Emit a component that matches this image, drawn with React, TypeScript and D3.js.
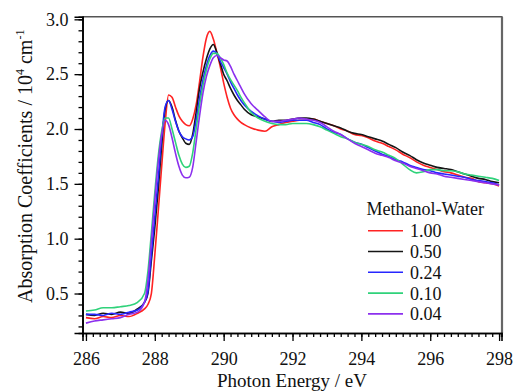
import React, { useRef, useEffect } from 'react';
import * as d3 from 'd3';

// photon energy grid (eV), shared by all five traces
const energy = [
  286.0, 286.25, 286.5, 286.75, 287.0, 287.25, 287.5,
  287.7, 287.8, 287.9, 288.0, 288.1, 288.2, 288.3, 288.4, 288.5, 288.6, 288.7, 288.8, 288.9,
  289.0, 289.1, 289.2, 289.3, 289.4, 289.5, 289.6, 289.7, 289.8, 289.9,
  290.0, 290.1, 290.2, 290.3, 290.4, 290.5, 290.6,
  290.8, 291.0, 291.2, 291.4, 291.6, 291.8, 292.0, 292.2, 292.4, 292.6, 292.8,
  293.0, 293.2, 293.4, 293.6, 293.8, 294.0, 294.2, 294.4, 294.6, 294.8,
  295.0, 295.2, 295.4, 295.6, 295.8, 296.0, 296.2, 296.4, 296.6, 296.8,
  297.0, 297.2, 297.4, 297.6, 297.8, 298.0,
];

// absorption coefficients / 10^4 cm^-1
const mw100 = [
  0.28, 0.27, 0.29, 0.28, 0.30, 0.29, 0.32,
  0.36, 0.40, 0.50, 0.85, 1.25, 1.66, 2.05, 2.31, 2.29, 2.20, 2.12, 2.07, 2.04,
  2.03, 2.09, 2.22, 2.43, 2.66, 2.83, 2.89, 2.82, 2.70, 2.57,
  2.42, 2.29, 2.19, 2.13, 2.09, 2.06, 2.04,
  2.01, 1.99, 1.98, 2.02, 2.04, 2.06, 2.07, 2.08, 2.08, 2.09, 2.07,
  2.05, 2.03, 2.00, 1.98, 1.95, 1.94, 1.92, 1.89, 1.87, 1.84,
  1.81, 1.77, 1.74, 1.70, 1.67, 1.65, 1.63, 1.61, 1.60, 1.58,
  1.56, 1.55, 1.52, 1.51, 1.50, 1.48,
];
const mw050 = [
  0.31, 0.30, 0.32, 0.31, 0.33, 0.32, 0.36,
  0.42, 0.50, 0.80, 1.10, 1.45, 1.85, 2.18, 2.26, 2.20, 2.08, 1.98, 1.92, 1.87,
  1.86, 1.95, 2.15, 2.37, 2.52, 2.64, 2.73, 2.77, 2.70, 2.60,
  2.50, 2.44, 2.37, 2.31, 2.26, 2.22, 2.18,
  2.13, 2.11, 2.09, 2.07, 2.08, 2.08, 2.09, 2.10, 2.10, 2.09, 2.07,
  2.05, 2.03, 2.01, 1.98, 1.96, 1.95, 1.93, 1.91, 1.89, 1.86,
  1.83, 1.79, 1.76, 1.72, 1.69, 1.67, 1.65, 1.64, 1.63, 1.61,
  1.59, 1.57, 1.55, 1.54, 1.52, 1.51,
];
const mw024 = [
  0.31, 0.31, 0.30, 0.32, 0.31, 0.33, 0.35,
  0.42, 0.52, 0.85, 1.20, 1.55, 1.92, 2.20, 2.26, 2.18, 2.07, 1.98, 1.93, 1.91,
  1.90, 1.93, 2.08, 2.28, 2.45, 2.58, 2.67, 2.71, 2.69, 2.62,
  2.56, 2.50, 2.43, 2.37, 2.31, 2.26, 2.22,
  2.16, 2.12, 2.09, 2.07, 2.06, 2.07, 2.08, 2.08, 2.08, 2.06, 2.04,
  2.00, 1.97, 1.95, 1.91, 1.88, 1.86, 1.83, 1.80, 1.77, 1.75,
  1.72, 1.70, 1.67, 1.65, 1.63, 1.62, 1.60, 1.59, 1.58, 1.57,
  1.56, 1.54, 1.53, 1.52, 1.51, 1.49,
];
const mw010 = [
  0.34, 0.35, 0.37, 0.37, 0.38, 0.39, 0.42,
  0.50, 0.70, 1.05, 1.42, 1.75, 1.98, 2.10, 2.10, 2.00, 1.88, 1.76, 1.68, 1.65,
  1.66, 1.78, 2.00, 2.22, 2.40, 2.54, 2.64, 2.69, 2.69, 2.65,
  2.59, 2.51, 2.45, 2.40, 2.35, 2.29, 2.24,
  2.15, 2.10, 2.07, 2.05, 2.04, 2.04, 2.05, 2.05, 2.05, 2.04, 2.02,
  1.99, 1.96, 1.93, 1.91, 1.88, 1.86, 1.84, 1.81, 1.79, 1.76,
  1.73, 1.68, 1.63, 1.60, 1.61, 1.63, 1.63, 1.62, 1.62, 1.61,
  1.59, 1.58, 1.57, 1.56, 1.55, 1.53,
];
const mw004 = [
  0.23, 0.25, 0.26, 0.27, 0.28, 0.31, 0.33,
  0.42, 0.62, 0.98, 1.35, 1.70, 1.95, 2.08, 2.04, 1.92, 1.78, 1.66, 1.58, 1.555,
  1.56, 1.65, 1.88, 2.12, 2.33, 2.48, 2.58, 2.65, 2.67, 2.65,
  2.63, 2.62, 2.57, 2.50, 2.44, 2.38, 2.32,
  2.23, 2.17, 2.11, 2.07, 2.07, 2.08, 2.09, 2.10, 2.09, 2.08, 2.06,
  2.02, 1.98, 1.95, 1.91, 1.87, 1.84, 1.81, 1.78, 1.76, 1.74,
  1.71, 1.69, 1.66, 1.64, 1.62, 1.60, 1.59, 1.57, 1.56, 1.55,
  1.54, 1.53, 1.52, 1.51, 1.50, 1.49,
];

const labels = ['1.00', '0.50', '0.24', '0.10', '0.04'];
const colors = ['#ff2323', '#151515', '#2626ff', '#2fd27a', '#8c30ee'];
const seriesValues = [mw100, mw050, mw024, mw010, mw004];

const xTicks = [286, 288, 290, 292, 294, 296, 298];
const yTicks = [0.5, 1.0, 1.5, 2.0, 2.5, 3.0];

function App() {
  const svgRef = useRef<SVGSVGElement>(null);
  const width = 514;
  const height = 391;

  useEffect(() => {
    const svg = d3.select(svgRef.current);
    svg.selectAll('*').remove();

    const left = 82.5, right = 501.5, top = 16.7, bottom = 333;
    const font = "'Liberation Serif', 'Times New Roman', Times, 'DejaVu Serif', serif";

    const x = d3.scaleLinear().domain([285.9, 298.07]).range([left, right]);
    const y = d3.scaleLinear().domain([0.14, 3.024]).range([bottom, top]);

    // frame (top and right)
    svg.append('line').attr('x1', left).attr('x2', right + 1).attr('y1', top).attr('y2', top)
      .attr('stroke', '#555').attr('stroke-width', 1.5);
    svg.append('line').attr('x1', right + 0.5).attr('x2', right + 0.5).attr('y1', top).attr('y2', bottom)
      .attr('stroke', '#666').attr('stroke-width', 2.2);

    // traces
    const line = d3.line<[number, number]>()
      .x(d => x(d[0]))
      .y(d => y(d[1]))
      .curve(d3.curveMonotoneX);

    seriesValues.forEach((vals, i) => {
      const pts = energy.map((e, j) => [e, vals[j]] as [number, number]).filter(d => d[1] != null);
      svg.append('path')
        .datum(pts)
        .attr('fill', 'none')
        .attr('stroke', colors[i])
        .attr('stroke-width', 1.6)
        .attr('stroke-linejoin', 'round')
        .attr('d', line);
    });

    // x axis
    const xMinor = d3.range(286, 298.01, 0.2).map(v => +v.toFixed(1));
    const gx = svg.append('g').attr('transform', `translate(0,${bottom})`);
    gx.call(d3.axisBottom(x).tickValues(xMinor).tickSize(4).tickFormat(() => ''));
    gx.append('g').call(d3.axisBottom(x).tickValues(xTicks).tickSize(8).tickPadding(11).tickFormat(d3.format('d')));
    gx.selectAll('path.domain').attr('stroke', '#000').attr('stroke-width', 1.6);
    gx.selectAll('.tick line').attr('stroke', '#000').attr('stroke-width', 1.3);

    // y axis
    const yMinor = d3.range(0.2, 3.001, 0.1).map(v => +v.toFixed(1));
    const gy = svg.append('g').attr('transform', `translate(${left},0)`);
    gy.call(d3.axisLeft(y).tickValues(yMinor).tickSize(4).tickFormat(() => ''));
    gy.append('g').call(d3.axisLeft(y).tickValues(yTicks).tickSize(8).tickPadding(6).tickFormat(d3.format('.1f')));
    gy.selectAll('path.domain').attr('stroke', '#000').attr('stroke-width', 1.6);
    gy.selectAll('.tick line').attr('stroke', '#000').attr('stroke-width', 1.3);

    // axis titles
    svg.append('text')
      .attr('x', (left + right) / 2)
      .attr('y', 387)
      .attr('text-anchor', 'middle')
      .style('font-size', '19px')
      .text('Photon Energy / eV');

    const yt = svg.append('text')
      .attr('transform', 'translate(32,303) rotate(-90)')
      .attr('text-anchor', 'start')
      .style('font-size', '20px');
    yt.append('tspan').text('Absorption Coefficients / 10');
    yt.append('tspan').style('font-size', '12px').attr('dy', -8).text('4');
    yt.append('tspan').attr('dy', 8).text(' cm');
    yt.append('tspan').style('font-size', '12px').attr('dy', -8).text('-1');

    // legend
    const lg = svg.append('g');
    lg.append('text')
      .attr('x', 366.5)
      .attr('y', 215)
      .style('font-size', '18px')
      .text('Methanol-Water');
    labels.forEach((lab, i) => {
      const cy = 230.7 + i * 20.8;
      lg.append('line')
        .attr('x1', 368).attr('x2', 403)
        .attr('y1', cy).attr('y2', cy)
        .attr('stroke', colors[i]).attr('stroke-width', 1.6);
      lg.append('text')
        .attr('x', 410)
        .attr('y', cy + 6.5)
        .style('font-size', '18px')
        .text(lab);
    });

    // one serif face for every text, axis labels included
    svg.selectAll('text')
      .attr('font-family', null)
      .style('font-family', font)
      .attr('fill', '#111');
    svg.selectAll('.tick text').style('font-size', '18px');
  }, []);

  return (
    <svg
      ref={svgRef}
      width={width}
      height={height}
      style={{ position: 'absolute', left: 0, top: 0, background: '#fff' }}
    />
  );
}

export default App;
